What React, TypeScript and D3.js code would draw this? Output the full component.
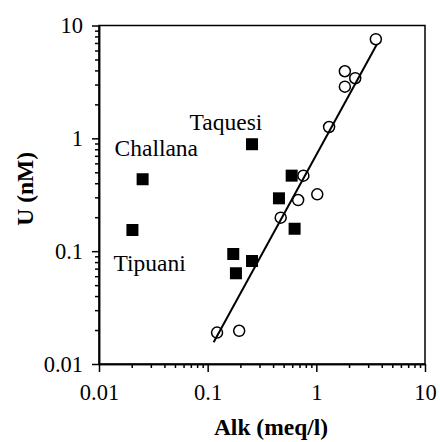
import React, { useRef, useEffect } from "react";
import * as d3 from "d3";

// open circles: samples used for the fit
const circleAlk = [3.53, 1.83, 2.28, 1.83, 1.31, 0.76, 1.02, 0.68, 0.47, 0.122, 0.195];
const circleU = [7.56, 3.93, 3.41, 2.87, 1.26, 0.467, 0.319, 0.284, 0.198, 0.019, 0.0197];

// filled squares
const squareAlk = [0.0252, 0.0203, 0.256, 0.593, 0.453, 0.631, 0.172, 0.256, 0.182];
const squareU = [0.434, 0.154, 0.887, 0.467, 0.294, 0.158, 0.0944, 0.0818, 0.0637];

// regression line end points
const fitAlk = [0.1135, 3.6];
const fitU = [0.0156, 6.8];

// river labels (anchored in data units)
const labelNames = ["Taquesi", "Challana", "Tipuani"];
const labelAlk = [0.0682, 0.0139, 0.0136];
const labelU = [1.19, 0.70, 0.0667];

const majorTicks = [0.01, 0.1, 1, 10];
const tickLabels = ["0.01", "0.1", "1", "10"];

const App = () => {
  const svgRef = useRef<SVGSVGElement>(null);

  useEffect(() => {
    const svg = d3.select(svgRef.current);
    svg.selectAll("*").remove();

    const width = 440;
    const height = 442;
    const margin = { top: 25.5, right: 15, bottom: 78, left: 99 };
    const font = "'Liberation Serif', 'Times New Roman', serif";

    const x = d3.scaleLog().domain([0.01, 10]).range([margin.left, width - margin.right]);
    const y = d3.scaleLog().domain([0.01, 10]).range([height - margin.bottom, margin.top]);

    const minorTicks: number[] = [];
    majorTicks.slice(0, -1).forEach(d => {
      for (let k = 2; k <= 9; k++) minorTicks.push(d * k);
    });

    const fmt = (d: number) => tickLabels[majorTicks.indexOf(d)] ?? "";

    // minor ticks
    svg.append("g")
      .attr("transform", `translate(0,${y(0.01)})`)
      .call(d3.axisBottom(x).tickValues(minorTicks).tickSize(4).tickSizeOuter(0).tickFormat(() => ""));
    svg.append("g")
      .attr("transform", `translate(${x(0.01)},0)`)
      .call(d3.axisLeft(y).tickValues(minorTicks).tickSize(4).tickSizeOuter(0).tickFormat(() => ""));

    // major ticks + labels
    const gx = svg.append("g")
      .attr("transform", `translate(0,${y(0.01)})`)
      .call(d3.axisBottom(x).tickValues(majorTicks).tickSize(8).tickSizeOuter(0).tickPadding(12).tickFormat(fmt as any));
    const gy = svg.append("g")
      .attr("transform", `translate(${x(0.01)},0)`)
      .call(d3.axisLeft(y).tickValues(majorTicks).tickSize(7).tickSizeOuter(0).tickPadding(9).tickFormat(fmt as any));

    svg.selectAll(".tick line").attr("stroke", "#000").attr("stroke-width", 1.5);
    svg.selectAll(".domain").attr("stroke", "#000").attr("stroke-width", 1.5);
    [gx, gy].forEach(g => g.selectAll("text")
      .attr("font-family", font)
      .attr("font-size", 22.5)
      .attr("fill", "#000"));

    // frame
    svg.append("rect")
      .attr("x", x(0.01))
      .attr("y", y(10))
      .attr("width", x(10) - x(0.01))
      .attr("height", y(0.01) - y(10))
      .attr("fill", "none")
      .attr("stroke", "#000")
      .attr("stroke-width", 1.5);

    // fit line
    const line = d3.line<number>()
      .x(i => x(fitAlk[i]))
      .y(i => y(fitU[i]));
    svg.append("path")
      .datum(d3.range(fitAlk.length))
      .attr("fill", "none")
      .attr("stroke", "#000")
      .attr("stroke-width", 2)
      .attr("d", line);

    // squares
    const s = 12;
    svg.selectAll("rect.sq")
      .data(d3.range(squareAlk.length))
      .join("rect")
      .attr("class", "sq")
      .attr("x", i => x(squareAlk[i]) - s / 2)
      .attr("y", i => y(squareU[i]) - s / 2)
      .attr("width", s)
      .attr("height", s)
      .attr("fill", "#000");

    // circles
    svg.selectAll("circle")
      .data(d3.range(circleAlk.length))
      .join("circle")
      .attr("cx", i => x(circleAlk[i]))
      .attr("cy", i => y(circleU[i]))
      .attr("r", 5.5)
      .attr("fill", "none")
      .attr("stroke", "#000")
      .attr("stroke-width", 1.5);

    // labels
    svg.selectAll("text.lbl")
      .data(d3.range(labelNames.length))
      .join("text")
      .attr("class", "lbl")
      .attr("x", i => x(labelAlk[i]))
      .attr("y", i => y(labelU[i]))
      .attr("font-family", font)
      .attr("font-size", 23.5)
      .text(i => labelNames[i]);

    // axis titles
    svg.append("text")
      .attr("x", (x(0.01) + x(10)) / 2 + 9)
      .attr("y", 435)
      .attr("text-anchor", "middle")
      .attr("font-family", font)
      .attr("font-weight", "bold")
      .attr("font-size", 23.5)
      .text("Alk (meq/l)");

    svg.append("text")
      .attr("transform", `translate(33,${(y(0.01) + y(10)) / 2 - 6}) rotate(-90)`)
      .attr("text-anchor", "middle")
      .attr("font-family", font)
      .attr("font-weight", "bold")
      .attr("font-size", 23.5)
      .text("U (nM)");
  }, []);

  return (
    <svg
      ref={svgRef}
      width={440}
      height={442}
      style={{ position: "absolute", left: 0, top: 0, background: "#fff" }}
    />
  );
};

export default App;
